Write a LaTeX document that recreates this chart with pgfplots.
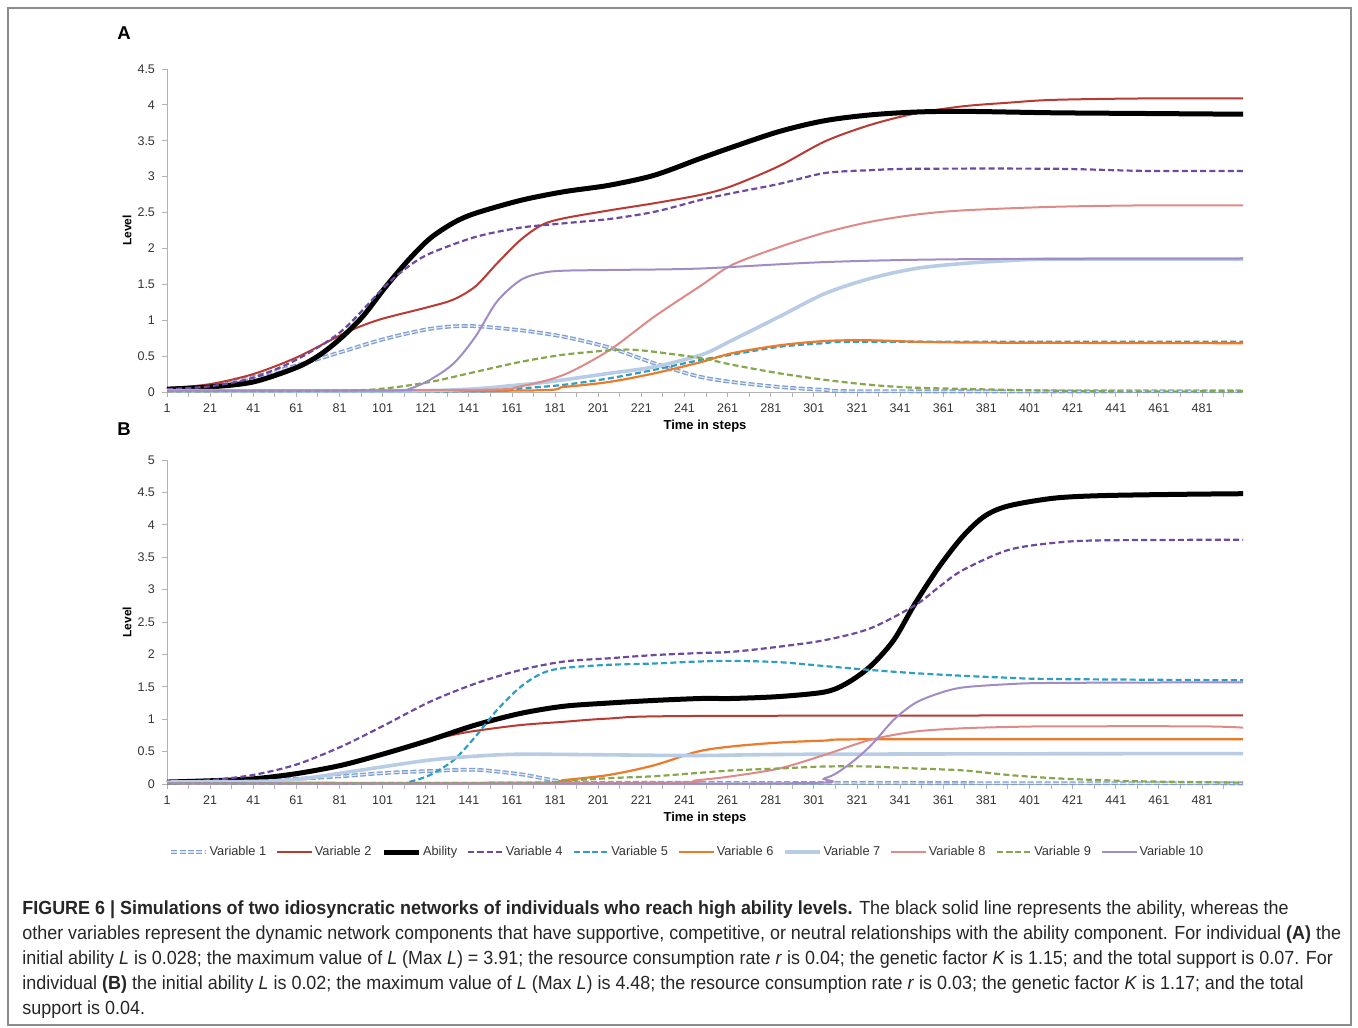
\documentclass[border=0pt]{standalone}
\usepackage{fontspec}
\setmainfont{Liberation Sans}
\newfontfamily\capfont{Liberation Sans}[FakeStretch=0.944]
\usepackage{pgfplots}
\pgfplotsset{compat=1.18}

\definecolor{cone}{HTML}{7F9ED0}
\definecolor{coneIn}{HTML}{DCE6F4}
\definecolor{ctwo}{HTML}{B83A32}
\definecolor{cfour}{HTML}{6E4A9E}
\definecolor{cfive}{HTML}{2E9FC0}
\definecolor{csix}{HTML}{EB7A2B}
\definecolor{cseven}{HTML}{B8CCE6}
\definecolor{ceight}{HTML}{DE8A88}
\definecolor{cnine}{HTML}{86A84A}
\definecolor{cten}{HTML}{A28CC4}

\pgfplotsset{
  panel/.style={
    scale only axis, width=538pt,
    xmin=1, xmax=500, ymin=0,
    clip=false,
    axis x line*=bottom, axis y line*=left,
    axis line style={draw=black!30, line width=0.5pt, -},
    xtick={1,21,...,481}, minor xtick={11,31,...,491},
    tick align=outside, major tick length=2.5pt, minor tick length=2.5pt,
    every tick/.style={draw=black!30, line width=0.5pt},
    minor tick style={draw=black!30, line width=0.5pt},
    ticklabel style={font=\fontsize{6.25}{7}\selectfont, text=black!80},
    /pgf/number format/assume math mode=true,
    yticklabel style={/pgf/number format/fixed},
    xlabel={Time in steps}, ylabel={Level},
    xlabel style={font=\bfseries\fontsize{6.5}{7}\selectfont, at={(axis description cs:0.5,-0.105)}, anchor=center},
    ylabel style={font=\bfseries\fontsize{6}{7}\selectfont, at={(axis description cs:-0.0372,0.5)}, anchor=center},
    every axis plot/.append style={smooth, tension=0.5, no markers},
  },
  vone/.style={draw=cone, line width=0.65pt, double=coneIn, double distance=0.6pt, dash pattern=on 3pt off 1.2pt},
  vtwo/.style={draw=ctwo, line width=1pt},
  vabil/.style={draw=black, line width=2.5pt},
  vfour/.style={draw=cfour, line width=1.1pt, dash pattern=on 3pt off 1.6pt},
  vfive/.style={draw=cfive, line width=1.1pt, dash pattern=on 3pt off 1.6pt},
  vsix/.style={draw=csix, line width=1.1pt},
  vseven/.style={draw=cseven, line width=1.8pt},
  veight/.style={draw=ceight, line width=1pt},
  vnine/.style={draw=cnine, line width=1.1pt, dash pattern=on 3pt off 1.6pt},
  vten/.style={draw=cten, line width=1pt},
}

\begin{document}
\begin{tikzpicture}
\useasboundingbox (0,0) rectangle (679pt,-513.5pt);
\draw[black!45, line width=0.6pt] (4pt,-4pt) rectangle (675.5pt,-512.5pt);

\node[font=\bfseries\fontsize{9.25}{11}\selectfont] at (62pt,-16.5pt) {A};
\node[font=\bfseries\fontsize{9.25}{11}\selectfont] at (62pt,-214.5pt) {B};

% panel A
\begin{axis}[panel, at={(83.5pt,-196pt)}, anchor=south west,
  height=161.5pt, ymax=4.5, ytick={0,0.5,...,4.5}]
\addplot[vone] coordinates {(1,0.04)(21,0.08)(41,0.21)(61,0.37)(82,0.56)(102,0.74)(123,0.88)(141,0.92)(165,0.86)(185,0.77)(206,0.62)(227,0.40)(247,0.22)(263,0.14)(285,0.07)(306,0.03)(327,0.01)(500,0.01)};
\addplot[vtwo] coordinates {(1,0.05)(21,0.11)(41,0.25)(61,0.48)(82,0.80)(92,0.93)(102,1.03)(123,1.19)(134,1.29)(144,1.47)(154,1.79)(165,2.12)(175,2.33)(185,2.42)(206,2.53)(227,2.63)(249,2.75)(263,2.87)(285,3.15)(306,3.49)(327,3.72)(348,3.88)(370,3.98)(391,4.03)(412,4.07)(455,4.09)(500,4.09)};
\addplot[vabil] coordinates {(1,0.04)(21,0.07)(41,0.14)(61,0.34)(72,0.52)(82,0.76)(92,1.06)(102,1.45)(113,1.84)(123,2.14)(134,2.36)(144,2.49)(165,2.67)(185,2.79)(206,2.88)(227,3.02)(248,3.25)(263,3.41)(285,3.63)(306,3.78)(327,3.86)(348,3.90)(370,3.91)(412,3.89)(455,3.88)(500,3.87)};
\addplot[vfour] coordinates {(1,0.04)(21,0.08)(41,0.20)(61,0.45)(82,0.85)(102,1.47)(113,1.75)(123,1.93)(144,2.16)(165,2.29)(185,2.35)(206,2.41)(227,2.51)(249,2.68)(263,2.77)(285,2.90)(306,3.05)(327,3.09)(348,3.11)(412,3.11)(455,3.08)(500,3.08)};
\addplot[vfive] coordinates {(1,0.01)(144,0.01)(165,0.05)(185,0.10)(206,0.19)(227,0.31)(249,0.45)(263,0.52)(285,0.63)(306,0.68)(327,0.70)(500,0.70)};
\addplot[vsix] coordinates {(1,0.02)(165,0.02)(185,0.07)(206,0.14)(227,0.26)(249,0.42)(263,0.54)(285,0.65)(306,0.71)(327,0.72)(370,0.69)(500,0.68)};
\addplot[vseven] coordinates {(1,0.02)(123,0.02)(165,0.10)(185,0.17)(206,0.26)(227,0.35)(249,0.52)(263,0.72)(285,1.05)(306,1.37)(327,1.58)(348,1.72)(370,1.79)(391,1.83)(412,1.85)(500,1.85)};
\addplot[veight] coordinates {(1,0.02)(144,0.03)(165,0.08)(185,0.24)(206,0.58)(227,1.05)(249,1.49)(263,1.77)(285,2.02)(306,2.22)(327,2.37)(348,2.47)(370,2.53)(412,2.58)(455,2.60)(500,2.60)};
\addplot[vnine] coordinates {(1,0.01)(82,0.02)(102,0.05)(123,0.14)(144,0.28)(165,0.42)(185,0.52)(206,0.58)(216,0.59)(227,0.56)(249,0.47)(263,0.38)(285,0.26)(306,0.17)(327,0.10)(348,0.06)(391,0.03)(434,0.01)(500,0.01)};
\addplot[vten] coordinates {(1,0.02)(105,0.02)(113,0.04)(123,0.17)(134,0.40)(144,0.77)(154,1.26)(165,1.56)(175,1.66)(185,1.69)(206,1.70)(248,1.72)(306,1.81)(370,1.85)(500,1.86)};
\end{axis}

% panel B
\begin{axis}[panel, at={(83.5pt,-392pt)}, anchor=south west,
  height=162pt, ymax=5, ytick={0,0.5,...,5},
  legend columns=10, legend cell align=left,
  legend style={at={(axis description cs:0.4837,-0.21)}, anchor=center,
    draw=none, fill=none, inner sep=0pt,
    font=\fontsize{6.4}{7}\selectfont, text=black!80,
    nodes={inner sep=1.2pt},
    /tikz/every even column/.append style={column sep=3.8pt}}]
\addplot[vone] coordinates {(1,0.03)(41,0.06)(61,0.08)(82,0.12)(102,0.17)(123,0.20)(144,0.22)(165,0.15)(175,0.09)(185,0.04)(206,0.02)(500,0.01)};
\addlegendentry{Variable 1}
\addplot[vtwo] coordinates {(1,0.03)(41,0.08)(61,0.16)(82,0.29)(102,0.47)(123,0.67)(134,0.76)(144,0.82)(165,0.91)(185,0.96)(206,1.01)(247,1.05)(500,1.06)};
\addlegendentry{Variable 2}
\addplot[vabil] coordinates {(1,0.03)(21,0.05)(41,0.08)(61,0.16)(82,0.29)(102,0.47)(123,0.68)(144,0.91)(165,1.09)(185,1.20)(206,1.25)(227,1.29)(249,1.32)(263,1.32)(285,1.35)(306,1.42)(316,1.55)(327,1.81)(338,2.22)(348,2.79)(359,3.35)(370,3.82)(380,4.13)(391,4.29)(412,4.41)(434,4.45)(470,4.47)(500,4.48)};
\addlegendentry{Ability}
\addplot[vfour] coordinates {(1,0.03)(21,0.06)(41,0.14)(61,0.30)(82,0.58)(102,0.91)(123,1.27)(144,1.55)(165,1.76)(185,1.89)(206,1.94)(227,1.99)(247,2.02)(263,2.04)(285,2.12)(306,2.22)(327,2.40)(348,2.76)(359,3.04)(370,3.30)(391,3.61)(412,3.72)(434,3.76)(500,3.77)};
\addlegendentry{Variable 4}
\addplot[vfive] coordinates {(1,0.01)(105,0.01)(113,0.03)(123,0.14)(134,0.37)(144,0.73)(154,1.14)(165,1.50)(175,1.71)(185,1.79)(206,1.84)(227,1.86)(247,1.89)(263,1.90)(285,1.88)(306,1.82)(327,1.76)(348,1.71)(370,1.67)(391,1.64)(412,1.62)(500,1.60)};
\addlegendentry{Variable 5}
\addplot[vsix] coordinates {(1,0.02)(175,0.02)(185,0.06)(206,0.14)(227,0.29)(247,0.50)(263,0.58)(285,0.64)(306,0.67)(327,0.69)(500,0.69)};
\addlegendentry{Variable 6}
\addplot[vseven] coordinates {(1,0.03)(41,0.04)(61,0.07)(82,0.17)(102,0.27)(123,0.37)(144,0.43)(165,0.46)(206,0.45)(247,0.44)(306,0.46)(500,0.47)};
\addlegendentry{Variable 7}
\addplot[veight] coordinates {(1,0.01)(227,0.02)(247,0.06)(263,0.12)(285,0.24)(306,0.45)(327,0.68)(348,0.81)(370,0.86)(391,0.88)(412,0.89)(480,0.89)(500,0.87)};
\addlegendentry{Variable 8}
\addplot[vnine] coordinates {(1,0.01)(165,0.02)(185,0.05)(206,0.09)(227,0.12)(247,0.17)(263,0.21)(285,0.24)(306,0.27)(327,0.27)(348,0.24)(370,0.21)(391,0.14)(412,0.09)(434,0.06)(455,0.04)(500,0.02)};
\addlegendentry{Variable 9}
\addplot[vten] coordinates {(1,0.01)(285,0.01)(306,0.09)(316,0.27)(327,0.58)(338,0.99)(348,1.25)(359,1.40)(370,1.49)(391,1.54)(412,1.56)(500,1.57)};
\addlegendentry{Variable 10}
\end{axis}

% caption
\begin{scope}[every node/.style={anchor=base west, inner sep=0pt, font=\capfont\fontsize{9.5}{11}\selectfont, text=black!85}]
\node at (11pt,-457pt) {\textbf{FIGURE 6 | Simulations of two idiosyncratic networks of individuals who reach high ability levels.} The black solid line represents the ability, whereas the};
\node at (11pt,-469.5pt) {other variables represent the dynamic network components that have supportive, competitive, or neutral relationships with the ability component. For individual \textbf{(A)} the};
\node at (11pt,-482pt) {initial ability \textit{L} is 0.028; the maximum value of \textit{L} (Max \textit{L}) = 3.91; the resource consumption rate \textit{r} is 0.04; the genetic factor \textit{K} is 1.15; and the total support is 0.07. For};
\node at (11pt,-494.5pt) {individual \textbf{(B)} the initial ability \textit{L} is 0.02; the maximum value of \textit{L} (Max \textit{L}) is 4.48; the resource consumption rate \textit{r} is 0.03; the genetic factor \textit{K} is 1.17; and the total};
\node at (11pt,-507pt) {support is 0.04.};
\end{scope}
\end{tikzpicture}
\end{document}
